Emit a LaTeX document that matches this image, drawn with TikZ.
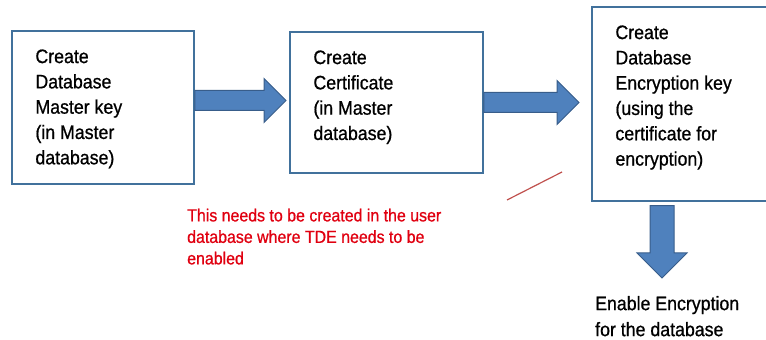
\documentclass[tikz,border=0pt]{standalone}
\usepackage{fontspec}
\setmainfont{Liberation Sans}[FakeStretch=0.91, FakeBold=0.8]
\usetikzlibrary{calc}
\definecolor{boxline}{HTML}{41719C}
\definecolor{arrowfill}{HTML}{4F81BD}
\definecolor{arrowline}{HTML}{385D8A}
\definecolor{notered}{HTML}{E00010}
\definecolor{linered}{HTML}{C0504D}

\begin{document}
\begin{tikzpicture}[x=1pt, y=1pt,
		stepbox/.style={draw=boxline, line width=1.5pt, inner sep=0pt},
		steptext/.style={anchor=north west, align=left, inner sep=0pt, font=\fontsize{19.5}{25.3}\selectfont},
		blockarrow/.style={fill=arrowfill, draw=arrowline, line width=1pt, line join=miter}]
		\useasboundingbox (0, 0) rectangle (766, 340);
		% the three steps
		\node[stepbox, minimum width=182, minimum height=153] (mkey) at (103, 232.5) {};
		\node[stepbox, minimum width=193, minimum height=141] (cert) at (386.5, 237.5) {};
		\node[stepbox, minimum width=208, minimum height=194] (dek) at (696, 236) {};
		\node[steptext] (mkeytext) at ($(mkey.north west)+(24, -19)$) {Create\\Database\\Master key\\(in Master\\database)};
		\node[steptext] (certtext) at ($(cert.north west)+(24, -19)$) {Create\\Certificate\\(in Master\\database)};
		\node[steptext] (dektext) at ($(dek.north west)+(24, -19)$) {Create\\Database\\Encryption key\\(using the\\certificate for\\encryption)};
		\node[steptext, font=\fontsize{19.5}{26}\selectfont] (enable) at (595, 44.2) {Enable Encryption\\for the database};
		% note
		\node[steptext, text=notered, font=\fontsize{17.5}{21.5}\selectfont] (note) at (187, 131.5) {This needs to be created in the user\\database where TDE needs to be\\enabled};
		\coordinate (lna) at (507, 140);
		\coordinate (lnb) at (562, 168);
		\draw[linered, line width=1.2pt] (lna) -- (lnb);
		% arrows
		\coordinate (tipa) at (286, 239.5);
		\coordinate (tipb) at (579, 237.5);
		\coordinate (tipc) at (662, 62);
		\foreach \from/\tip in {mkey/tipa, cert/tipb}
			\draw[blockarrow] ($(\tip -| \from.east)+(0, 10)$) -- ($(\tip)+(-22, 10)$) -- ($(\tip)+(-22, 22)$) -- (\tip) -- ($(\tip)+(-22, -22)$) -- ($(\tip)+(-22, -10)$) -- ($(\tip -| \from.east)+(0, -10)$) -- cycle;
		\draw[blockarrow] ($(dek.south -| tipc)+(-12, -4)$) -- ($(dek.south -| tipc)+(12, -4)$) -- ($(tipc)+(12, 25)$) -- ($(tipc)+(25, 25)$) -- (tipc) -- ($(tipc)+(-25, 25)$) -- ($(tipc)+(-12, 25)$) -- cycle;
	\end{tikzpicture}
\end{document}
